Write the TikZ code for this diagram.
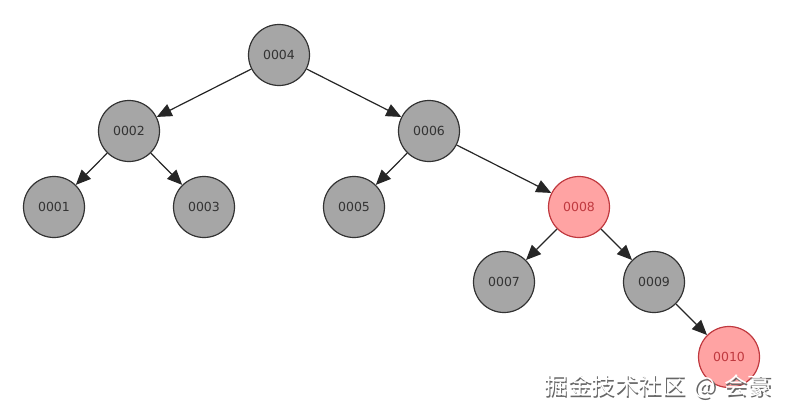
\documentclass[tikz,border=0pt]{standalone}
\usepackage{fontspec}
\setmainfont{DejaVu Sans}
\newfontfamily\cjk{Noto Sans CJK SC}
\usetikzlibrary{arrows.meta}
\definecolor{nodegray}{HTML}{A6A6A6}
\definecolor{nodered}{HTML}{FFA3A3}
\definecolor{redline}{HTML}{C0393F}

\begin{document}
\begin{tikzpicture}[x=1pt,y=-1pt,every node/.style={circle,draw=black!80,line width=1.2pt,minimum size=61pt,inner sep=0pt,font=\fontsize{12.5}{14}\selectfont},blacknode/.style={fill=nodegray,text=black!80},rednode/.style={fill=nodered,draw=redline,text=redline},link/.style={draw=black!85,line width=1.2pt,-{Triangle[length=15pt,width=13pt]}},markstyle/.style={draw=none,rectangle,minimum size=0pt,font=\cjk\fontsize{23.5}{26}\selectfont}]
\useasboundingbox (0,0) rectangle (791,418);
\node[blacknode](n4) at (279,55) {0004};
\node[blacknode](n2) at (129,131) {0002};
\node[blacknode](n6) at (429,131) {0006};
\node[blacknode](n1) at (54,207) {0001};
\node[blacknode](n3) at (204,207) {0003};
\node[blacknode](n5) at (354,207) {0005};
\node[rednode](n8) at (579,207) {0008};
\node[blacknode](n7) at (504,282) {0007};
\node[blacknode](n9) at (654,282) {0009};
\node[rednode](n10) at (729,357) {0010};
\foreach \a/\b in {n4/n2,n4/n6,n2/n1,n2/n3,n6/n5,n6/n8,n8/n7,n8/n9,n9/n10}
  \draw[link] (\a) -- (\b);
% watermark
\node[markstyle,text=black!60] (markshadow) at (659.3,388.3) {掘金技术社区\hspace{0.35em}@\hspace{0.35em}会豪};
\node[markstyle,text=white] (mark) at (658,387) {掘金技术社区\hspace{0.35em}@\hspace{0.35em}会豪};
\end{tikzpicture}
\end{document}
